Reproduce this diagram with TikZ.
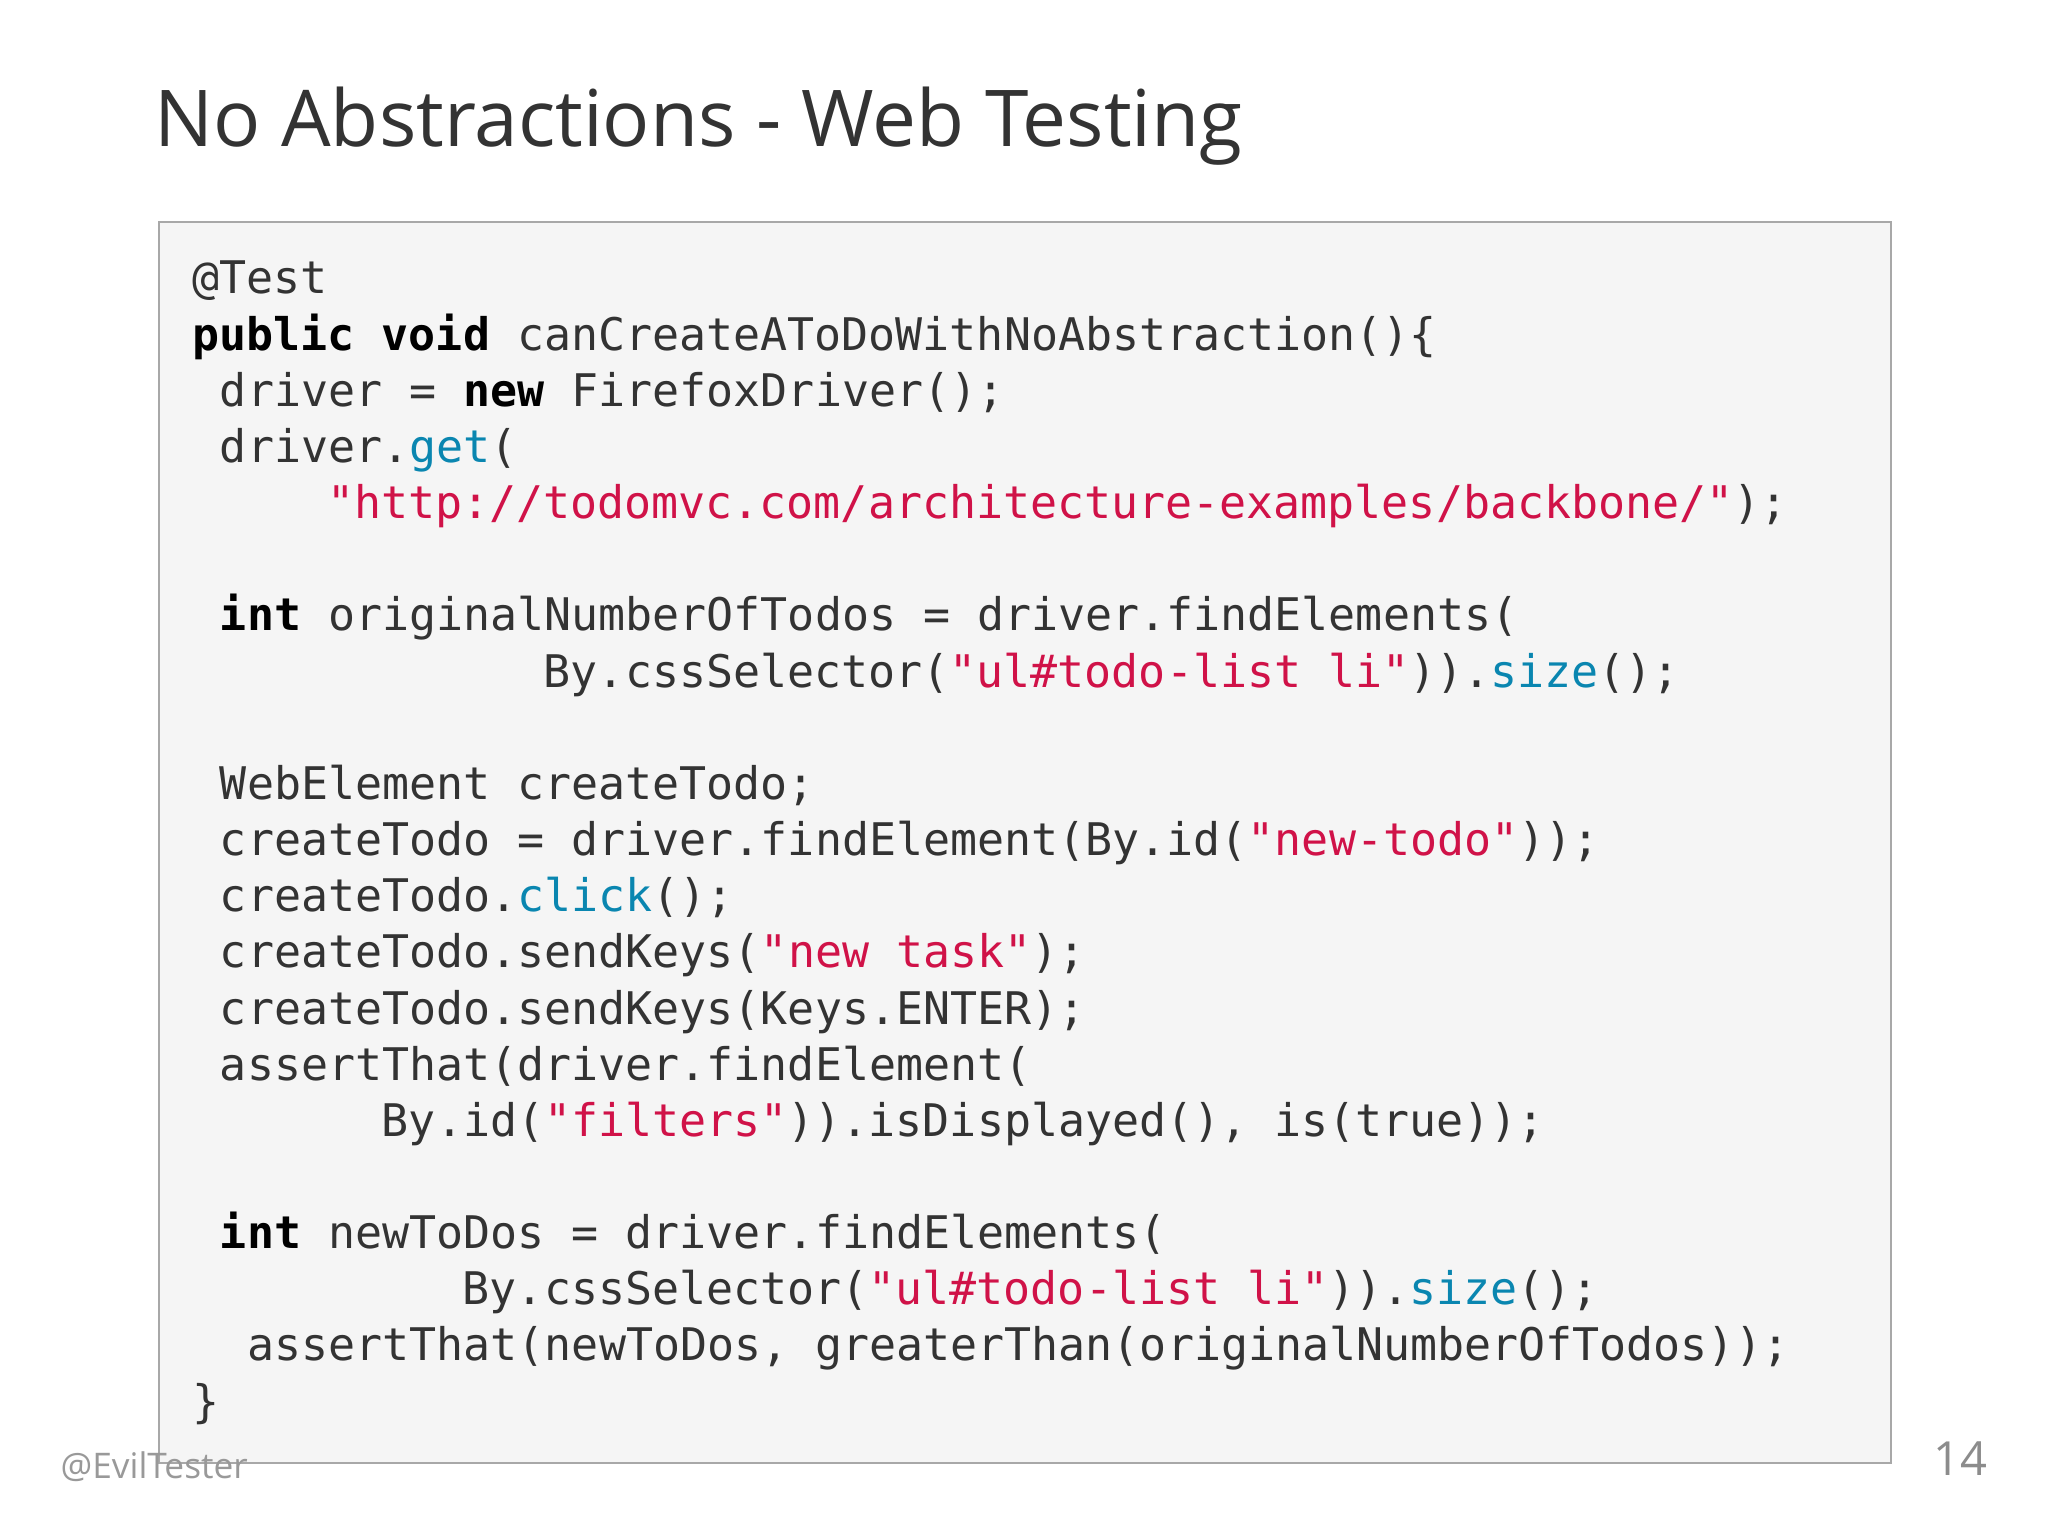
\documentclass[tikz,border=0pt]{standalone}
\usepackage{fontspec}
\setmainfont{Open Sans}
\setmonofont{DejaVu Sans Mono}
\definecolor{txt}{HTML}{333333}
\definecolor{strc}{HTML}{D01248}
\definecolor{mthc}{HTML}{0A86B0}
\definecolor{boxfill}{HTML}{F5F5F5}
\definecolor{boxline}{HTML}{A8A8A8}
\newcommand{\cstr}[1]{\textcolor{strc}{#1}}
\newcommand{\cmth}[1]{\textcolor{mthc}{#1}}
\newcommand{\ckw}[1]{\textbf{\textcolor{black}{#1}}}
\begin{document}
\begin{tikzpicture}[x=0.5pt,y=-0.5pt,
  codeline/.style={anchor=base west,inner sep=0pt,text=txt,font=\ttfamily\fontsize{17.2}{20}\selectfont}]
\useasboundingbox[fill=white] (0,0) rectangle (1568,1178);
\node[anchor=base west,inner sep=0pt,text=txt,font=\fontsize{30}{36}\selectfont] (title) at (118,112) {No Abstractions - Web Testing};
\draw[boxline,fill=boxfill,line width=0.8pt] (122,170) rectangle (1448,1120);
\foreach \n/\y/\x/\t in {
 l1/225/147/{@Test},
 l2/268/147/{\ckw{public} \ckw{void} canCreateAToDoWithNoAbstraction()\{},
 l3/311/168/{driver = \ckw{new} FirefoxDriver();},
 l4/354/168/{driver.\cmth{get}(},
 l5/397/250/{\cstr{"http://todomvc.com/architecture-examples/backbone/"});},
 l6/483/168/{\ckw{int} originalNumberOfTodos = driver.findElements(},
 l7/526/416/{By.cssSelector(\cstr{"ul\#todo-list li"})).\cmth{size}();},
 l8/612/168/{WebElement createTodo;},
 l9/655/168/{createTodo = driver.findElement(By.id(\cstr{"new-todo"}));},
 l10/698/168/{createTodo.\cmth{click}();},
 l11/741/168/{createTodo.sendKeys(\cstr{"new task"});},
 l12/784/168/{createTodo.sendKeys(Keys.ENTER);},
 l13/827/168/{assertThat(driver.findElement(},
 l14/870/292/{By.id(\cstr{"filters"})).isDisplayed(), is(true));},
 l15/956/168/{\ckw{int} newToDos = driver.findElements(},
 l16/999/354/{By.cssSelector(\cstr{"ul\#todo-list li"})).\cmth{size}();},
 l17/1042/189/{assertThat(newToDos, greaterThan(originalNumberOfTodos));},
 l18/1085/147/{\}}}
 \node[codeline] (\n) at (\x,\y) {\t};
\node[anchor=base west,inner sep=0pt,text=gray!80,font=\fontsize{13.5}{16}\selectfont] (foot) at (46,1132) {@EvilTester};
\node[anchor=base east,inner sep=0pt,text=gray!90,font=\fontsize{18}{22}\selectfont] (page) at (1522,1130) {14};
\end{tikzpicture}
\end{document}
